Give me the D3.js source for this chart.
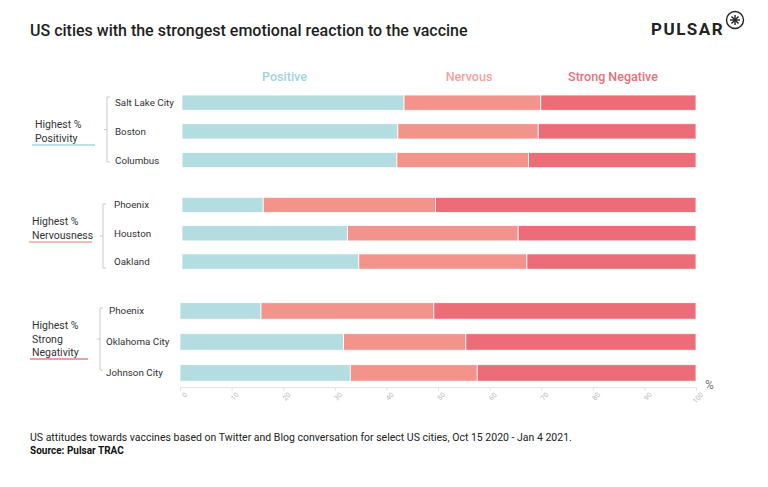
<!DOCTYPE html>
<html><head><meta charset="utf-8">
<script src="https://cdn.jsdelivr.net/npm/d3@7"></script>
<style>body{margin:0;background:#fff}svg{display:block}text{font-family:Roboto,"Open Sans",sans-serif}</style>
</head><body><svg id="c" width="768" height="487"></svg>
<script>
const groups = ["Highest % Positivity","Highest % Nervousness","Highest % Strong Negativity"];
const cities1 = ["Salt Lake City","Boston","Columbus"];
const positive1 = [43.2,42.0,41.8];
const nervous1 = [26.6,27.3,25.6];
const strongNeg1 = [30.2,30.7,32.6];
const cities2 = ["Phoenix","Houston","Oakland"];
const positive2 = [15.8,32.2,34.4];
const nervous2 = [33.5,33.2,32.7];
const strongNeg2 = [50.7,34.6,32.9];
const cities3 = ["Phoenix","Oklahoma City","Johnson City"];
const positive3 = [15.7,31.7,33.0];
const nervous3 = [33.5,23.7,24.6];
const strongNeg3 = [50.8,44.6,42.4];
const seriesNames = ["Positive","Nervous","Strong Negative"];
const ticks = [0,10,20,30,40,50,60,70,80,90,100];

const svg = d3.select("#c");
const colors = ["#b3dde0","#f2948b","#ec6c77"];
const labelColors = ["#9fd5d9","#f4a39b","#e9707a"];

svg.append("text").attr("x",30).attr("y",36).attr("font-size",16).attr("font-weight",500).attr("fill","#1e1e1e").text("US cities with the strongest emotional reaction to the vaccine");
// logo
svg.append("text").attr("x",651).attr("y",35).attr("font-size",17).attr("font-weight",700).attr("letter-spacing",1.5).attr("fill","#222").text("PULSAR");
const lg = svg.append("g").attr("transform","translate(735,20)");
lg.append("circle").attr("r",8.5).attr("fill","none").attr("stroke","#222").attr("stroke-width",1.4);
[0,45,90,135].forEach(a=>lg.append("line").attr("x1",-5).attr("x2",5).attr("transform",`rotate(${a})`).attr("stroke","#222").attr("stroke-width",1.4));

// series header
const hx = [284.5,469,613];
seriesNames.forEach((s,i)=>svg.append("text").attr("x",hx[i]).attr("y",81).attr("text-anchor","middle").attr("font-size",12.5).attr("font-weight",500).attr("fill",labelColors[i]).text(s));

const panels = [
 {cities:cities1,vals:[positive1,nervous1,strongNeg1],x0:182,x1:696,y0:95,step:28.7,h:15.3,lab:["Highest %","Positivity"],labX:35,labY:128,ul:[32,95,145],ulc:"#a8d9dc",br:107,by:[97,162],cx:115},
 {cities:cities2,vals:[positive2,nervous2,strongNeg2],x0:182,x1:696,y0:197.3,step:28.3,h:15.3,lab:["Highest %","Nervousness"],labX:32,labY:225,ul:[29,92,242],ulc:"#f4a39b",br:103,by:[204,268],cx:114},
 {cities:cities3,vals:[positive3,nervous3,strongNeg3],x0:180,x1:696,y0:302.7,step:31,h:16.5,lab:["Highest %","Strong","Negativity"],labX:32,labY:329,ul:[30,88,359],ulc:"#ec7a83",br:100,by:[308,370],cx:[109,106,106]},
];

panels.forEach((p,pi)=>{
  const x = d3.scaleLinear().domain([0,100]).range([p.x0,p.x1]);
  const rows = p.cities.map((c,i)=>{
    let acc=0; return p.vals.map((v,k)=>{const s={k,a:acc,b:acc+v[i]};acc+=v[i];return s;});
  });
  const y = d3.scaleBand().domain(p.cities.map((c,i)=>i)).range([p.y0, p.y0 + p.step*2 + p.h]).paddingInner((p.step-p.h)/p.step).paddingOuter(0).align(0);
  const g = svg.append("g");
  rows.forEach((r,i)=>{
    g.selectAll(null).data(r).enter().append("rect")
      .attr("x",d=>x(d.a)).attr("width",d=>x(d.b)-x(d.a))
      .attr("y",y(i)).attr("height",y.bandwidth())
      .attr("fill",d=>colors[d.k]).attr("stroke","#fff").attr("stroke-width",0.8);
    const cx = Array.isArray(p.cx)?p.cx[i]:p.cx;
    svg.append("text").attr("x",cx).attr("y",y(i)+y.bandwidth()/2+3.5).attr("font-size",9.8).attr("fill","#333").text(p.cities[i]);
  });
  p.lab.forEach((t,j)=>svg.append("text").attr("x",p.labX).attr("y",p.labY+j*13.5).attr("font-size",10.5).attr("fill","#333").text(t));
  svg.append("line").attr("x1",p.ul[0]).attr("x2",p.ul[1]).attr("y1",p.ul[2]).attr("y2",p.ul[2]).attr("stroke",p.ulc).attr("stroke-width",1.3);
  const b = svg.append("g").attr("stroke","#bbb").attr("stroke-width",0.8).attr("fill","none");
  const mid=(p.by[0]+p.by[1])/2;
  b.append("path").attr("d",`M${p.br+3},${p.by[0]}H${p.br}V${p.by[1]}H${p.br+3}M${p.br},${mid}H${p.br-3}`);
  if(pi===2){
    const ax = svg.append("g").attr("transform","translate(0,387)")
      .call(d3.axisBottom(x).tickValues(ticks).tickSize(4).tickPadding(4).tickFormat(d3.format("d")));
    ax.select(".domain").attr("stroke","#e4e4e4");
    ax.selectAll(".tick line").attr("stroke","#e4e4e4");
    ax.selectAll(".tick text").attr("font-size",7).attr("fill","#bbb").attr("font-family","Roboto,sans-serif")
      .attr("text-anchor","end").attr("dy","0.3em").attr("transform","translate(3,4) rotate(-45)").attr("y",4);
  }
});
svg.append("text").attr("x",705).attr("y",389).attr("font-size",12).attr("fill","#777").text("%");

svg.append("text").attr("x",30).attr("y",441).attr("font-size",10.5).attr("fill","#222").text("US attitudes towards vaccines based on Twitter and Blog conversation for select US cities, Oct 15 2020 - Jan 4 2021.");
svg.append("text").attr("x",30).attr("y",454).attr("font-size",10).attr("font-weight",700).attr("fill","#111").text("Source: Pulsar TRAC");
</script></body></html>
